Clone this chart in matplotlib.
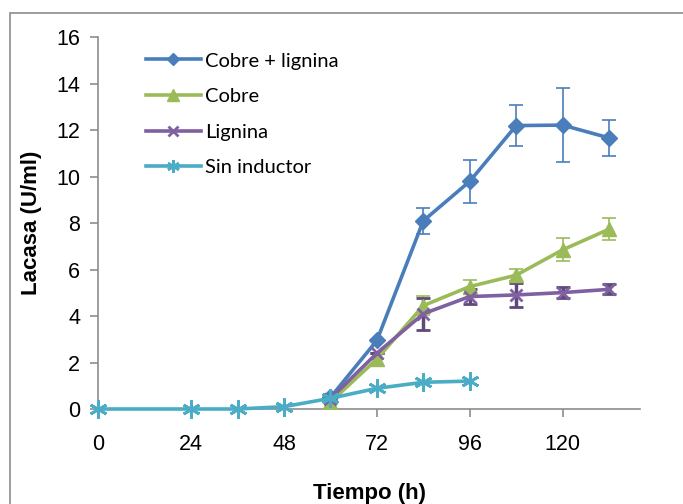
import matplotlib
matplotlib.use("Agg")
import matplotlib.pyplot as plt
from matplotlib.patches import Rectangle
from matplotlib.lines import Line2D

# tiempo de muestreo (h)
tiempo = [60, 72, 84, 96, 108, 120, 132]
tiempo_sin = [0, 24, 36, 48, 60, 72, 84, 96]

# lacasa (U/ml) y desviaciones
cobre_lignina = [0.5, 2.95, 8.1, 9.8, 12.2, 12.22, 11.67]
cobre_lignina_err = [0, 0, 0.56, 0.93, 0.9, 1.58, 0.77]
cobre = [0.3, 2.15, 4.45, 5.27, 5.76, 6.85, 7.74]
cobre_err = [0, 0, 0.4, 0.3, 0.25, 0.5, 0.47]
lignina = [0.45, 2.4, 4.1, 4.84, 4.91, 5.01, 5.15]
lignina_err = [0, 0, 0.68, 0.33, 0.5, 0.25, 0.22]
sin_inductor = [0, 0, 0, 0.1, 0.46, 0.89, 1.15, 1.2]

xticks = [0, 24, 48, 72, 96, 120]
yticks = [0, 2, 4, 6, 8, 10, 12, 14, 16]

azul, verde, morado, cian = "#4a7ebb", "#9bbb59", "#7f60a0", "#4bacc6"

fig = plt.figure(figsize=(6.83, 5.04), dpi=100)
ax = fig.add_axes([0.144, 0.1885, 0.793, 0.7375])

# borde del area del grafico (cortado a la derecha y abajo)
fig.patches.append(Rectangle((10 / 683, -0.1), 1.2, 1 - 13 / 504 + 0.1,
                             transform=fig.transFigure, fill=False,
                             edgecolor="#8c8c8c", linewidth=1.2))

lw = 2.6
ax.errorbar(tiempo, cobre_lignina, yerr=cobre_lignina_err, color=azul,
            marker="D", markersize=8, linewidth=lw, elinewidth=1.2,
            capsize=5, capthick=1.2, zorder=3)
ax.errorbar(tiempo, cobre, yerr=cobre_err, color=verde,
            marker="^", markersize=10, linewidth=lw, elinewidth=1.2,
            capsize=5, capthick=1.2, zorder=3)
ax.errorbar(tiempo, lignina, yerr=lignina_err, color=morado,
            ecolor="#5f497a", marker="x", markersize=9, markeredgewidth=2,
            linewidth=lw, elinewidth=2.5, capsize=5, capthick=2.5, zorder=3)
ax.plot(tiempo_sin, sin_inductor, color=cian, marker=(6, 2, 0),
        markersize=13, markeredgewidth=2, linewidth=lw, zorder=4,
        clip_on=False)

ax.set_xlim(0, 140)
ax.set_ylim(0, 16)
ax.set_xticks(xticks)
ax.set_yticks(yticks)
for s in ["top", "right"]:
    ax.spines[s].set_visible(False)
for s in ["left", "bottom"]:
    ax.spines[s].set_color("#8c8c8c")
    ax.spines[s].set_linewidth(1.2)
ax.tick_params(direction="out", length=6, width=1.2, color="#8c8c8c",
               labelsize=15.5, pad=12)
ax.tick_params(axis="y", pad=7)
for t in ax.get_xticklabels() + ax.get_yticklabels():
    t.set_fontfamily("Liberation Sans")

ax.set_xlabel("Tiempo (h)", fontsize=16, fontweight="bold",
              fontfamily="Liberation Sans", labelpad=20)
ax.set_ylabel("Lacasa (U/ml)", fontsize=16, fontweight="bold",
              fontfamily="Liberation Sans", labelpad=10)

handles = [
    Line2D([], [], color=azul, lw=lw, marker="D", markersize=6),
    Line2D([], [], color=verde, lw=lw, marker="^", markersize=8),
    Line2D([], [], color=morado, lw=lw, marker="x", markersize=7, markeredgewidth=2),
    Line2D([], [], color=cian, lw=lw, marker=(6, 2, 0), markersize=9, markeredgewidth=2),
]
labels = ["Cobre + lignina", "Cobre", "Lignina", "Sin inductor"]
ax.legend(handles, labels, loc="upper left", bbox_to_anchor=(0.055, 1.008),
          frameon=False, prop={"family": "Lato", "size": 14.5},
          handlelength=2.7, handletextpad=0.2, labelspacing=0.92)

fig.savefig("out.png", dpi=100)
